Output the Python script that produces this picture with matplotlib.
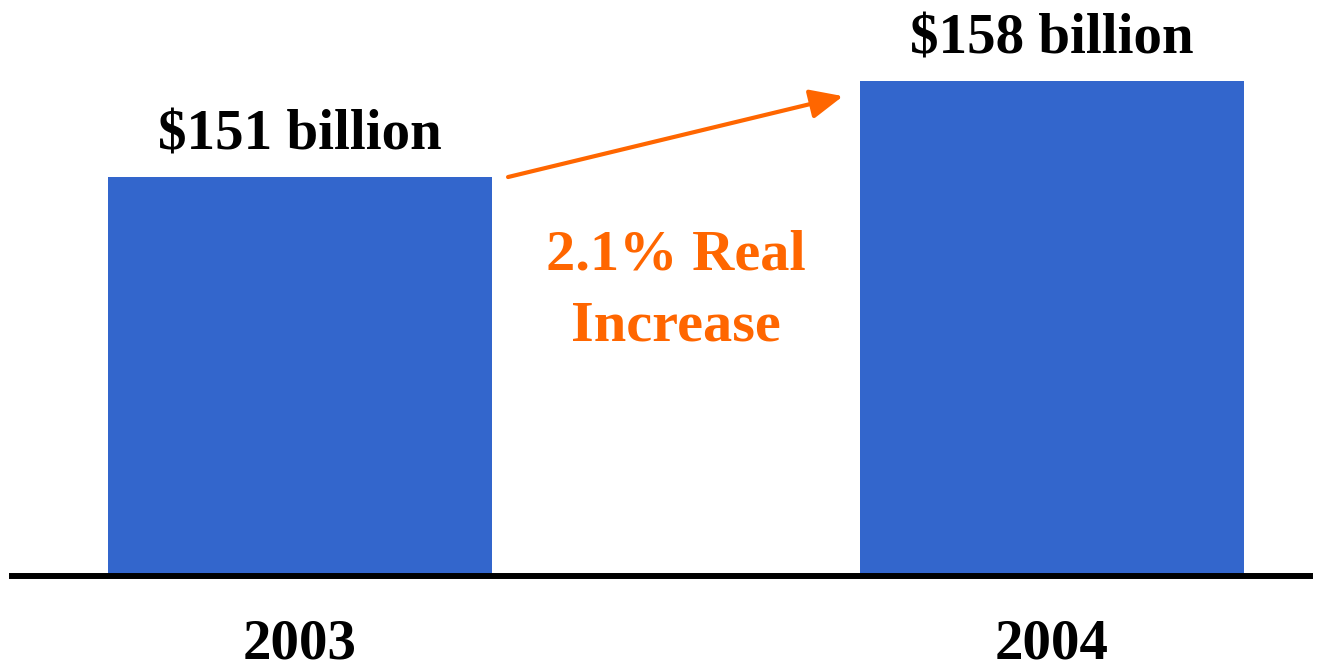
import matplotlib.pyplot as plt

# 数据
years = ['2003', '2004']
values = [151, 158]
labels = ['$151 billion', '$158 billion']
note = '2.1% Real\nIncrease'

bar_color = '#3366CC'
arrow_color = '#FF6600'
base = 121.9

plt.rcParams['font.family'] = ['Liberation Serif', 'DejaVu Serif']

fig = plt.figure(figsize=(13.23, 6.65), dpi=100)
ax = fig.add_axes([12 / 1323, 89 / 665, 1298 / 1323, 576 / 665])

x = [0, 1]
ax.bar(x, [v - base for v in values], bottom=base, width=0.51, color=bar_color, zorder=2)
ax.set_xlim(-0.383, 1.343)
ax.set_ylim(base, base + 576 / 13.71)

# 数值标签
for xi, v, lab in zip(x, values, labels):
    ax.text(xi, v + 2.0, lab, ha='center', va='baseline', fontsize=41, fontweight='bold')

# 年份
for xi, yr in zip(x, years):
    ax.text(xi, base - 6.0, yr, ha='center', va='baseline', fontsize=41, fontweight='bold',
            clip_on=False)

# 增长箭头
ax.annotate('', xy=(0.722, 156.9), xytext=(0.2766, 151.0),
            arrowprops=dict(arrowstyle='-|>,head_length=2.0,head_width=0.9', color=arrow_color, lw=3,
                            shrinkA=0, shrinkB=0))
ax.text(0.5, 142.7, note, ha='center', va='center', fontsize=42, fontweight='bold',
        color=arrow_color, linespacing=1.48)

ax.axis('off')
ax.axhline(base, color='black', lw=4.3, clip_on=False)

fig.savefig('out.png', dpi=100)
